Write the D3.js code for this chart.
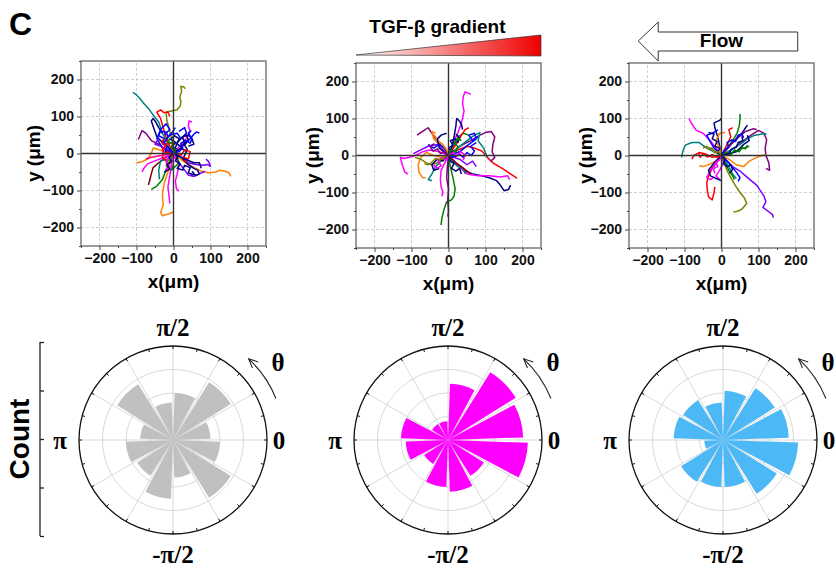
<!DOCTYPE html>
<html>
<head>
<meta charset="utf-8">
<script src="https://cdn.jsdelivr.net/npm/d3@7"></script>
<style>
  body { margin: 0; background: #fff; }
  svg { display: block; }
</style>
</head>
<body>
<div id="fig"></div>
<script>
// Cell migration tracks (um) and angular histograms

const width = 836;
const height = 569;

// tick labels
const axisTicks = [-200, -100, 0, 100, 200];
const minorTicks = [-250, -150, -50, 50, 150, 250];
const roseLabels = ["π/2", "-π/2", "π", "0", "θ"];

// rose bins: start angle (deg, ccw from +x), each 30 deg wide
const binStarts = [0, 30, 60, 90, 120, 150, 180, 210, 240, 270, 300, 330];
const ctrlCounts = [16, 29, 20, 16, 28, 14, 20, 18, 25, 16, 29, 20];
const tgfCounts  = [32, 34, 24, 8, 8, 20, 18, 12, 20, 22, 18, 34];
const flowCounts = [28, 26, 21, 16, 20, 21, 8, 21, 20, 20, 27, 32];

// tracks, x/y in um
const ctrlTracks = [
  [[0,0],[-8,12],[-15,25],[-22,40],[-30,55],[-35,70],[-40,85],[-52,100],[-65,118],[-80,135],[-92,150],[-102,160],[-110,165]],
  [[0,0],[-3,30],[-10,60],[-18,90],[-20,112],[-5,115],[10,118],[18,128],[20,140],[17,152],[22,168],[20,182],[28,180],[32,175]],
  [[0,0],[-10,20],[-20,45],[-28,70],[-35,95],[-45,112],[-35,118],[-25,110],[-15,112],[-10,100]],
  [[0,0],[-15,15],[-30,30],[-45,45],[-52,65],[-60,88],[-55,95],[-48,85],[-40,70],[-30,55]],
  [[0,0],[-20,10],[-40,25],[-60,35],[-75,55],[-85,62],[-90,50],[-95,38]],
  [[0,0],[12,15],[25,30],[38,45],[45,60],[40,75],[42,88],[50,85]],
  [[0,0],[15,10],[30,25],[45,40],[55,52],[62,58],[70,55]],
  [[0,0],[20,-10],[40,-25],[60,-30],[80,-32],[92,-30],[100,-35],[95,-22],[88,-15]],
  [[0,0],[25,-20],[50,-35],[75,-48],[95,-52],[115,-50],[125,-45],[140,-48],[150,-52],[155,-62]],
  [[0,0],[15,-25],[30,-45],[40,-58],[55,-62],[70,-55],[85,-48]],
  [[0,0],[-8,-25],[-15,-50],[-25,-80],[-30,-110],[-28,-140],[-35,-160],[-30,-168],[-10,-162],[0,-158]],
  [[0,0],[-5,-30],[-10,-60],[-15,-90],[-12,-115],[-10,-135]],
  [[0,0],[-10,-20],[-20,-45],[-30,-70],[-45,-88],[-60,-97]],
  [[0,0],[-20,-10],[-40,-25],[-55,-38],[-60,-55],[-65,-75],[-68,-85]],
  [[0,0],[-20,5],[-40,10],[-55,15],[-60,0],[-70,-15],[-85,-22],[-100,-25]],
  [[0,0],[-25,-10],[-50,-20],[-70,-28],[-80,-40],[-85,-50]],
  [[0,0],[15,-30],[10,-55],[5,-75],[8,-95],[15,-102]],
  [[0,0],[20,15],[35,5],[25,-15],[40,-30],[55,-40],[65,-45],[70,-55],[60,-60],[50,-48]],
  [[0,0],[-25,30],[-10,50],[10,55],[20,40],[35,55],[30,70],[15,60]],
  [[0,0],[20,-5],[30,10],[45,5],[40,-15],[25,-10],[35,-25]],
  [[0,0],[-15,-15],[-35,-20],[-40,-45],[-38,-70]],
  [[0,0],[10,-10],[15,-25],[5,-35],[-5,-45],[0,-30]],
  [[0,0],[-30,15],[-45,40],[-35,65],[-20,80],[-10,65],[-25,50]],
  [[0,0],[10,30],[25,45],[40,50],[50,40],[55,25],[40,20]],
  [[0,0],[-20,-20],[-30,-10],[-25,15],[-15,30],[5,25]],
  [[0,0],[-35,20],[-50,25],[-40,40]],
  [[0,0],[-30,-5],[-60,-10],[-75,-15]],
  [[0,0],[-15,-20],[-20,-35]],
  [[0,0],[30,-15],[55,-25],[70,-25],[75,-40]],
  [[0,0],[8,12],[-4,20],[6,30],[-8,38],[2,48],[15,40],[10,25],[22,18],[30,30],[24,45],[35,50],[40,38],[30,22],[38,10]],
  [[0,0],[-10,8],[-22,4],[-18,20],[-30,26],[-25,40],[-40,48],[-35,60],[-20,58],[-15,45],[-5,55],[5,70]],
  [[0,0],[12,-8],[5,-20],[18,-28],[10,-40],[25,-45],[30,-32],[45,-38],[40,-52],[55,-58]],
  [[0,0],[-8,-6],[-15,5],[-25,-2],[-30,12],[-20,20],[-32,30],[-25,40]],
  [[0,0],[5,-10],[-5,-18],[-15,-12],[-20,-25],[-10,-35],[-22,-45]],
  [[0,0],[15,5],[25,15],[20,28],[35,35],[45,28],[50,40],[40,55],[48,62]],
  [[0,0],[-12,-10],[-5,-22],[-18,-30],[-10,-42],[-25,-50]],
  [[0,0],[6,10],[-6,15],[-2,28],[-14,30],[-10,42]]
];
const ctrlColors = ["teal","olive","red","navy","purple","magenta","blue","violet","orange","violet",
  "orange","magenta","green","wine","orange","magenta","magenta","navy","blue","red",
  "teal","green","blue","navy","red","violet","pink","olive","navy",
  "navy","blue","navy","red","magenta","blue","navy","green"];

const tgfTracks = [
  [[0,0],[8,20],[15,40],[25,60],[32,80],[38,100],[42,120],[38,140],[40,160],[45,172],[55,168],[60,165]],
  [[0,0],[10,25],[15,50],[20,80],[22,100],[28,95],[35,85],[38,70]],
  [[0,0],[25,15],[50,25],[70,20],[90,12],[105,-5],[120,-20],[145,-35],[165,-48],[180,-58],[185,-62]],
  [[0,0],[30,25],[60,40],[85,55],[100,62],[115,65],[125,50],[120,30],[118,10],[125,-5],[115,-15]],
  [[0,0],[20,-20],[40,-40],[65,-50],[90,-55],[110,-60],[130,-68],[140,-80],[150,-95],[162,-92],[168,-80]],
  [[0,0],[25,-25],[50,-50],[80,-55],[110,-55],[140,-58],[160,-55],[165,-65]],
  [[0,0],[5,-30],[12,-60],[18,-90],[15,-110],[8,-120],[-5,-125],[-12,-145],[-18,-170],[-20,-188]],
  [[0,0],[-3,-30],[-5,-60],[0,-90],[-2,-120],[0,-150],[-2,-165]],
  [[0,0],[-10,-20],[-20,-40],[-22,-65],[-20,-85],[-15,-100],[-18,-110]],
  [[0,0],[-25,10],[-50,15],[-70,10],[-90,0],[-105,-5],[-120,-8],[-130,-5],[-125,-25],[-118,-45],[-110,-50]],
  [[0,0],[-20,-5],[-40,0],[-60,8],[-75,-5],[-82,-25],[-80,-45],[-70,-60],[-62,-60]],
  [[0,0],[-20,-15],[-35,-30],[-45,-50],[-55,-65],[-45,-68]],
  [[0,0],[-15,-10],[-30,-20],[-45,-25],[-60,-20],[-75,-10],[-90,-5]],
  [[0,0],[-15,20],[-30,40],[-45,60],[-55,75],[-70,65],[-85,55]],
  [[0,0],[25,20],[50,40],[70,55],[85,62],[80,40],[95,20],[105,-5]],
  [[0,0],[30,10],[55,30],[75,45],[70,60],[55,55],[65,40],[80,50]],
  [[0,0],[-20,25],[-40,45],[-45,65],[-35,60]],
  [[0,0],[-30,30],[-55,25],[-75,15],[-95,5]],
  [[0,0],[15,25],[25,50],[40,60],[55,55]],
  [[0,0],[-15,-15],[-30,-10],[-45,-25],[-40,-40],[-25,-35]],
  [[0,0],[20,30],[35,55],[45,70],[55,75]],
  [[0,0],[30,-10],[50,-25],[65,-15],[75,-30]],
  [[0,0],[-10,20],[-25,30],[-40,20],[-55,30]],
  [[0,0],[10,-15],[25,-30],[40,-35],[45,-50]],
  [[0,0],[20,-20],[35,-30],[50,-42],[60,-50]],
  [[0,0],[-5,15],[-15,30],[-30,40],[-38,55]],
  [[0,0],[-25,20],[-30,45],[-20,55],[-5,60]],
  [[0,0],[10,10],[0,20],[12,28],[5,40],[18,45],[25,35],[30,48],[20,58]],
  [[0,0],[15,-5],[28,5],[40,-5],[50,8],[62,0],[70,12],[60,25],[75,35]],
  [[0,0],[-10,10],[-22,5],[-30,18],[-42,12],[-50,25],[-38,32]],
  [[0,0],[-8,-12],[-18,-5],[-28,-15],[-20,-28],[-32,-35],[-40,-25]],
  [[0,0],[-12,-5],[-22,-12],[-35,-8],[-45,-18],[-55,-25],[-65,-22]],
  [[0,0],[8,15],[20,10],[25,25],[15,35],[28,45],[35,40]],
  [[0,0],[5,-15],[15,-22],[8,-35],[20,-42],[30,-35],[35,-50]],
  [[0,0],[12,8],[22,-2],[32,10],[45,2],[40,-12]]
];
const tgfColors = ["magenta","navy","red","purple","navy","magenta","green","purple","magenta","magenta",
  "orange","teal","olive","purple","teal","blue","orange","violet","green","navy",
  "red","violet","blue","teal","wine","orange","navy",
  "navy","blue","purple","magenta","olive","green","navy","magenta"];

const flowTracks = [
  [[0,0],[15,-15],[30,-30],[50,-42],[65,-55],[80,-68],[95,-80],[105,-95],[115,-110],[120,-125],[112,-140],[125,-150],[138,-160],[140,-168]],
  [[0,0],[20,10],[40,25],[60,40],[80,55],[100,68],[115,60],[122,42],[118,20],[120,0],[128,-20],[130,-40],[120,-35]],
  [[0,0],[8,-20],[15,-40],[25,-60],[38,-82],[50,-100],[62,-115],[68,-130],[55,-145],[45,-150],[32,-153]],
  [[0,0],[-10,-15],[-25,-35],[-35,-55],[-40,-75],[-38,-95],[-35,-112],[-25,-120],[-20,-100],[-18,-85]],
  [[0,0],[-20,10],[-40,20],[-60,35],[-80,35],[-98,28],[-105,10],[-108,-5]],
  [[0,0],[-15,20],[-30,40],[-50,60],[-68,68],[-80,85],[-88,100]],
  [[0,0],[-5,25],[-10,50],[-18,75],[-20,88],[-5,95],[0,100]],
  [[0,0],[15,20],[30,40],[42,60],[48,80],[50,100],[50,112]],
  [[0,0],[25,15],[50,30],[70,45],[90,55],[110,58],[122,58]],
  [[0,0],[20,-10],[40,-25],[60,-30],[75,-15],[95,-5],[110,0],[120,2]],
  [[0,0],[-15,-20],[-30,-40],[-40,-60],[-30,-65],[-20,-58]],
  [[0,0],[-20,20],[-35,45],[-40,55],[-25,60],[-10,70]],
  [[0,0],[20,25],[40,45],[55,60],[65,75],[70,82]],
  [[0,0],[-25,-5],[-45,5],[-60,8],[-75,0],[-80,-10]],
  [[0,0],[-15,-15],[-35,-25],[-50,-30],[-60,-28]],
  [[0,0],[25,5],[45,15],[60,20],[75,25]],
  [[0,0],[35,40],[65,65],[85,72],[95,70]],
  [[0,0],[20,-20],[40,-45],[50,-60],[45,-70]],
  [[0,0],[5,-20],[-5,-40],[-15,-55],[-5,-65]],
  [[0,0],[-20,-20],[-35,-40],[-30,-55],[-15,-62],[0,-68]],
  [[0,0],[-25,15],[-40,25],[-50,20]],
  [[0,0],[20,-30],[30,-50],[40,-62]],
  [[0,0],[15,30],[25,50],[20,70],[30,75]],
  [[0,0],[40,10],[60,30],[75,40],[70,55]],
  [[0,0],[-5,20],[-15,40],[-5,60],[10,62]],
  [[0,0],[10,-20],[20,-40],[30,-55],[35,-65]],
  [[0,0],[-10,8],[-5,20],[-18,25],[-12,38],[-25,45],[-20,58],[-35,62]],
  [[0,0],[-12,-5],[-25,2],[-38,-4],[-50,5],[-58,-5],[-62,8]],
  [[0,0],[12,8],[25,2],[35,15],[48,10],[55,22],[65,18],[70,28]],
  [[0,0],[8,15],[20,22],[15,35],[28,42],[38,38],[45,55],[55,58],[60,48]],
  [[0,0],[-5,-12],[-15,-18],[-10,-30],[-22,-35],[-18,-48]],
  [[0,0],[10,-10],[5,-22],[15,-30],[25,-25],[30,-38],[22,-48]],
  [[0,0],[-8,10],[-20,8],[-25,20],[-38,18]],
  [[0,0],[20,5],[28,18],[40,22],[45,35],[58,40],[55,52]]
];
const flowColors = ["violet","purple","olive","red","teal","magenta","navy","green","teal","orange",
  "magenta","blue","navy","red","orange","green","purple","blue","magenta","navy",
  "olive","teal","red","navy","orange","green",
  "navy","red","green","blue","magenta","navy","olive","navy"];

const palette = {
  teal: "#008080", olive: "#808000", red: "#ff0000", navy: "#000080", blue: "#0000ff",
  violet: "#8000ff", purple: "#800080", magenta: "#ff00ff", orange: "#ff8000",
  green: "#008000", wine: "#800000", pink: "#ff0080"
};

const sans = "'Liberation Sans', Arial, sans-serif";
const serif = "'Liberation Serif', 'Times New Roman', serif";

const svg = d3.select("#fig").append("svg")
  .attr("width", width)
  .attr("height", height)
  .attr("viewBox", [0, 0, width, height]);

// panel letter
svg.append("text")
  .attr("x", 9).attr("y", 35)
  .attr("font-family", sans).attr("font-weight", "bold").attr("font-size", 32)
  .text("C");

/*
  Track plots
*/
const trackPanels = [
  {left: 81, top: 61, ytitle: 33, tracks: ctrlTracks, colors: ctrlColors},
  {left: 356, top: 63, ytitle: 312, tracks: tgfTracks, colors: tgfColors},
  {left: 629, top: 63, ytitle: 585, tracks: flowTracks, colors: flowColors}
];
const plotSize = 185;

const scales = trackPanels.map(p => {
  const x = d3.scaleLinear().domain([-250, 250]).range([p.left, p.left + plotSize]);
  const y = d3.scaleLinear().domain([-250, 250]).range([p.top + plotSize, p.top]);
  return {x, y};
});

trackPanels.forEach((p, i) => {
  const {x, y} = scales[i];
  const g = svg.append("g");

  // dashed grid
  const gridVals = axisTicks.filter(v => v !== 0);
  g.selectAll(".gx").data(gridVals).enter().append("line")
    .attr("x1", d => x(d)).attr("x2", d => x(d))
    .attr("y1", y(-250)).attr("y2", y(250))
    .attr("stroke", "#c4c4c4").attr("stroke-width", 0.8).attr("stroke-dasharray", "3,2");
  g.selectAll(".gy").data(gridVals).enter().append("line")
    .attr("y1", d => y(d)).attr("y2", d => y(d))
    .attr("x1", x(-250)).attr("x2", x(250))
    .attr("stroke", "#c4c4c4").attr("stroke-width", 0.8).attr("stroke-dasharray", "3,2");

  // tracks
  const line = d3.line().x(d => x(d[0])).y(d => y(d[1]));
  g.selectAll(".track").data(p.tracks).enter().append("path")
    .attr("d", line)
    .attr("fill", "none")
    .attr("stroke", (d, k) => palette[p.colors[k]])
    .attr("stroke-width", 1.5)
    .attr("stroke-linejoin", "round");

  // zero lines
  g.append("line").attr("x1", x(0)).attr("x2", x(0)).attr("y1", y(-250)).attr("y2", y(250))
    .attr("stroke", "#333").attr("stroke-width", 1.4);
  g.append("line").attr("y1", y(0)).attr("y2", y(0)).attr("x1", x(-250)).attr("x2", x(250))
    .attr("stroke", "#333").attr("stroke-width", 1.4);

  // frame
  g.append("rect")
    .attr("x", x(-250)).attr("y", y(250))
    .attr("width", plotSize).attr("height", plotSize)
    .attr("fill", "none").attr("stroke", "#666").attr("stroke-width", 1.3);

  // axes
  const yAxis = g.append("g").attr("transform", `translate(${x(-250)},0)`)
    .call(d3.axisLeft(y).tickValues(axisTicks).tickSize(4).tickPadding(3));
  g.append("g").attr("transform", `translate(${x(-250)},0)`)
    .call(d3.axisLeft(y).tickValues(minorTicks).tickSize(2).tickFormat(""));
  const xAxis = g.append("g").attr("transform", `translate(0,${y(-250)})`)
    .call(d3.axisBottom(x).tickValues(axisTicks).tickSize(4).tickPadding(3));
  g.append("g").attr("transform", `translate(0,${y(-250)})`)
    .call(d3.axisBottom(x).tickValues(minorTicks).tickSize(2).tickFormat(""));
  g.selectAll(".domain").remove();
  g.selectAll(".tick line").attr("stroke", "#444");
  [xAxis, yAxis].forEach(a => a.selectAll("text")
    .attr("font-family", sans).attr("font-weight", "bold").attr("font-size", 14).attr("fill", "#111"));

  // titles
  g.append("text")
    .attr("x", x(0)).attr("y", y(-250) + 42)
    .attr("text-anchor", "middle")
    .attr("font-family", sans).attr("font-weight", "bold").attr("font-size", 19)
    .text("x(μm)");
  g.append("text")
    .attr("transform", `translate(${p.ytitle},${y(0)}) rotate(-90)`)
    .attr("dy", "0.35em")
    .attr("text-anchor", "middle")
    .attr("font-family", sans).attr("font-weight", "bold").attr("font-size", 19)
    .text("y (μm)");
});

// TGF-beta gradient wedge above the middle plot
{
  const {x} = scales[1];
  const defs = svg.append("defs");
  const grad = defs.append("linearGradient").attr("id", "tgf")
    .attr("x1", "0%").attr("x2", "100%").attr("y1", "0%").attr("y2", "0%");
  grad.append("stop").attr("offset", "0%").attr("stop-color", "#ffffff");
  grad.append("stop").attr("offset", "100%").attr("stop-color", "#ee0000");
  svg.append("path")
    .attr("d", `M${x(-250)},55 L${x(250)},35 L${x(250)},56 Z`)
    .attr("fill", "url(#tgf)").attr("stroke", "#333").attr("stroke-width", 0.7);
  svg.append("text")
    .attr("x", x(-30)).attr("y", 33)
    .attr("text-anchor", "middle")
    .attr("font-family", sans).attr("font-weight", "bold").attr("font-size", 19)
    .text("TGF-β gradient");
}

// Flow arrow above the right plot
{
  const {x} = scales[2];
  const tip = x(-225), neck = x(-171), tail = x(206);
  svg.append("path")
    .attr("d", `M${tip},41 L${neck},22 L${neck},32 L${tail},32 L${tail},51 L${neck},51 L${neck},61 Z`)
    .attr("fill", "#fff").attr("stroke", "#333").attr("stroke-width", 1);
  svg.append("text")
    .attr("x", x(0)).attr("y", 47)
    .attr("text-anchor", "middle")
    .attr("font-family", sans).attr("font-weight", "bold").attr("font-size", 19)
    .text("Flow");
}

/*
  Rose plots
*/
const rosePanels = [
  {cx: 173, cy: 440, counts: ctrlCounts, fill: "#c0c0c0"},
  {cx: 448, cy: 440, counts: tgfCounts, fill: "#ff00ff"},
  {cx: 723, cy: 440, counts: flowCounts, fill: "#4cb8f5"}
];
const rMax = 40;
const r = d3.scaleLinear().domain([0, rMax]).range([0, 94]);
const toRad = d3.scaleLinear().domain([0, 360]).range([0, 2 * Math.PI]);
const binWidth = 30, binPad = 2;

rosePanels.forEach(p => {
  const g = svg.append("g").attr("transform", `translate(${p.cx},${p.cy})`);

  // rings
  g.selectAll(".ring").data([10, 20, 30]).enter().append("circle")
    .attr("r", d => r(d)).attr("fill", "none")
    .attr("stroke", "#cfcfcf").attr("stroke-width", 0.8);
  // spokes
  g.selectAll(".spoke").data(binStarts).enter().append("line")
    .attr("x1", 0).attr("y1", 0)
    .attr("x2", d => r(rMax) * Math.cos(toRad(d)))
    .attr("y2", d => -r(rMax) * Math.sin(toRad(d)))
    .attr("stroke", "#cfcfcf").attr("stroke-width", 0.8);

  // wedges
  const arc = d3.arc()
    .innerRadius(0)
    .outerRadius(d => r(d.v))
    .startAngle(d => Math.PI / 2 - toRad(d.a + binWidth - binPad))
    .endAngle(d => Math.PI / 2 - toRad(d.a + binPad));
  g.selectAll(".wedge").data(binStarts.map((a, k) => ({a, v: p.counts[k]}))).enter()
    .append("path")
    .attr("d", arc)
    .attr("fill", p.fill);

  // outer circle and ticks
  g.append("circle").attr("r", r(rMax)).attr("fill", "none")
    .attr("stroke", "#111").attr("stroke-width", 1.3);
  g.selectAll(".otick").data(d3.range(0, 360, 15)).enter().append("line")
    .attr("x1", d => r(rMax) * Math.cos(toRad(d)))
    .attr("y1", d => -r(rMax) * Math.sin(toRad(d)))
    .attr("x2", d => (r(rMax) - 3) * Math.cos(toRad(d)))
    .attr("y2", d => -(r(rMax) - 3) * Math.sin(toRad(d)))
    .attr("stroke", "#111").attr("stroke-width", 1);

  // angle labels
  const lab = [
    {t: roseLabels[0], x: 0, y: -113},
    {t: roseLabels[1], x: 0, y: 114},
    {t: roseLabels[2], x: -113, y: 0},
    {t: roseLabels[3], x: 106, y: 0},
    {t: roseLabels[4], x: 105, y: -78}
  ];
  g.selectAll(".alab").data(lab).enter().append("text")
    .attr("x", d => d.x).attr("y", d => d.y).attr("dy", "0.35em")
    .attr("text-anchor", "middle")
    .attr("font-family", serif).attr("font-weight", "bold").attr("font-size", 25)
    .text(d => d.t);

  // rotation arrow
  const ra = 111;
  const pt = a => [ra * Math.cos(toRad(a)), -ra * Math.sin(toRad(a))];
  const arrowArc = d3.arc().innerRadius(ra).outerRadius(ra)
    .startAngle(Math.PI / 2 - toRad(47)).endAngle(Math.PI / 2 - toRad(22));
  g.append("path").attr("d", arrowArc).attr("fill", "none")
    .attr("stroke", "#222").attr("stroke-width", 1.1);
  const [tx, ty] = pt(47);
  const th = toRad(47);
  const back = [Math.sin(th), Math.cos(th)]; // reverse of ccw tangent
  const head = [25, -25].map(deg => {
    const a = deg * Math.PI / 180;
    const bx = back[0] * Math.cos(a) - back[1] * Math.sin(a);
    const by = back[0] * Math.sin(a) + back[1] * Math.cos(a);
    return [tx + 10 * bx, ty + 10 * by];
  });
  g.append("path")
    .attr("d", `M${head[0][0]},${head[0][1]} L${tx},${ty} L${head[1][0]},${head[1][1]}`)
    .attr("fill", "none").attr("stroke", "#222").attr("stroke-width", 1.1);
});

// Count bracket axis
{
  const cy = d3.scaleLinear().domain([0, 4]).range([536, 342]);
  const ax = svg.append("g").attr("transform", "translate(40,0)")
    .call(d3.axisRight(cy).ticks(4).tickSize(4).tickFormat(""));
  ax.select(".domain").attr("stroke", "#222").attr("stroke-width", 1.3)
    .attr("d", `M0,${cy(0)}V${cy(4)}`);
  ax.selectAll(".tick line").attr("stroke", "#222").attr("stroke-width", 1.3);
  svg.append("text")
    .attr("transform", `translate(19,${cy(2)}) rotate(-90)`)
    .attr("dy", "0.35em")
    .attr("text-anchor", "middle")
    .attr("font-family", sans).attr("font-weight", "bold").attr("font-size", 28)
    .text("Count");
}
</script>
</body>
</html>
